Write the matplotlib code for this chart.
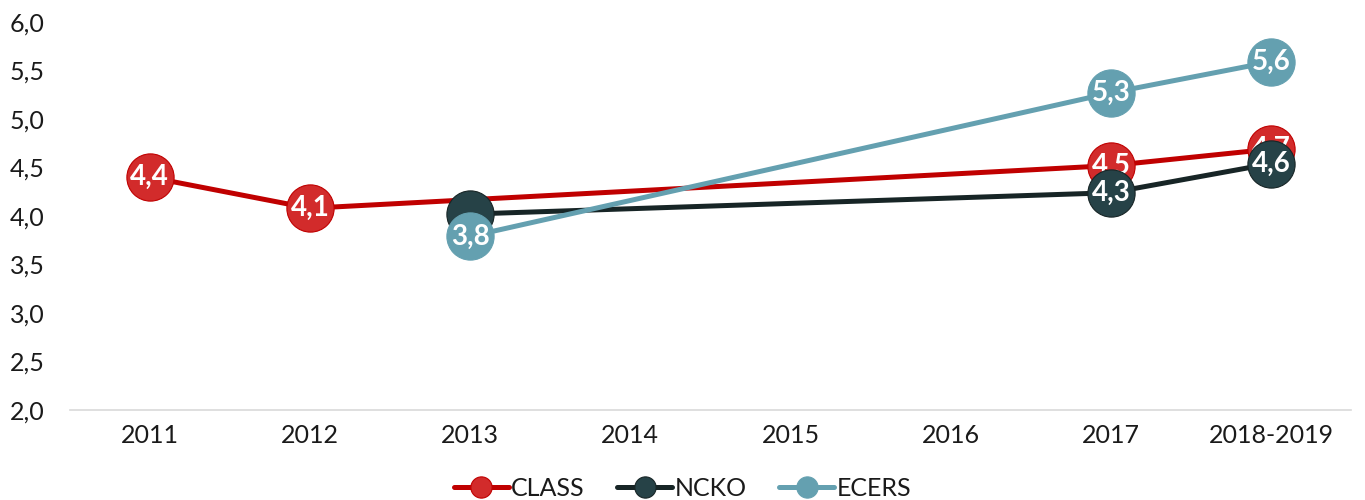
import numpy as np
import matplotlib
matplotlib.use("Agg")
import matplotlib.pyplot as plt

plt.rcParams["font.family"] = ["Lato", "DejaVu Sans"]

years = ["2011", "2012", "2013", "2014", "2015", "2016", "2017", "2018-2019"]

class_x = ["2011", "2012", "2017", "2018-2019"]
class_y = [4.40, 4.08, 4.52, 4.69]
class_lbl = ["4,4", "4,1", "4,5", "4,7"]

ncko_x = ["2013", "2017", "2018-2019"]
ncko_y = [4.02, 4.24, 4.54]
ncko_lbl = ["", "4,3", "4,6"]

ecers_x = ["2013", "2017", "2018-2019"]
ecers_y = [3.79, 5.27, 5.59]
ecers_lbl = ["3,8", "5,3", "5,6"]

series = [
    ("CLASS", class_x, class_y, class_lbl, "#C00000", "#D22B2B"),
    ("NCKO", ncko_x, ncko_y, ncko_lbl, "#172526", "#264247"),
    ("ECERS", ecers_x, ecers_y, ecers_lbl, "#64A0B0", "#64A0B0"),
]

fig = plt.figure(figsize=(13.65, 5.0), dpi=100)
ax = fig.add_axes([0.051, 0.18, 0.939, 0.776])

pos = {y: i for i, y in enumerate(years)}
for k, (name, xs, ys, lbls, lc, mc) in enumerate(series):
    xi = [pos[x] for x in xs]
    z = 3 + k * 2
    ax.plot(xi, ys, color=lc, lw=3.6, marker="o", ms=34, mfc=mc,
            mec=lc, mew=0.8, label=name, zorder=z, solid_capstyle="round")
    for x, y, t in zip(xi, ys, lbls):
        if t:
            ax.text(x, y, t, ha="center", va="center", color="white",
                    fontsize=20, fontweight="bold", zorder=z + 1)

ax.set_xlim(-0.5, len(years) - 0.5)
ax.set_ylim(2.0, 6.0)
ax.set_xticks(range(len(years)))
ax.set_xticklabels(years)
yt = np.arange(2.0, 6.01, 0.5)
ax.set_yticks(yt)
ax.set_yticklabels([f"{v:.1f}".replace(".", ",") for v in yt])
ax.tick_params(axis="both", length=0, labelsize=18, colors="#1a1a1a")
ax.tick_params(axis="x", pad=10)
ax.tick_params(axis="y", pad=18)
for s in ["top", "right", "left"]:
    ax.spines[s].set_visible(False)
ax.spines["bottom"].set_color("#D9D9D9")
ax.spines["bottom"].set_linewidth(1.2)

h, l = ax.get_legend_handles_labels()
leg = fig.legend(h, l, loc="lower center", ncol=3, frameon=False,
                 fontsize=18, bbox_to_anchor=(0.5, -0.045), markerscale=0.45,
                 handlelength=2.2, columnspacing=1.3, handletextpad=0.1)
for t in leg.get_texts():
    t.set_color("#1a1a1a")

fig.savefig("out.png", dpi=100)
